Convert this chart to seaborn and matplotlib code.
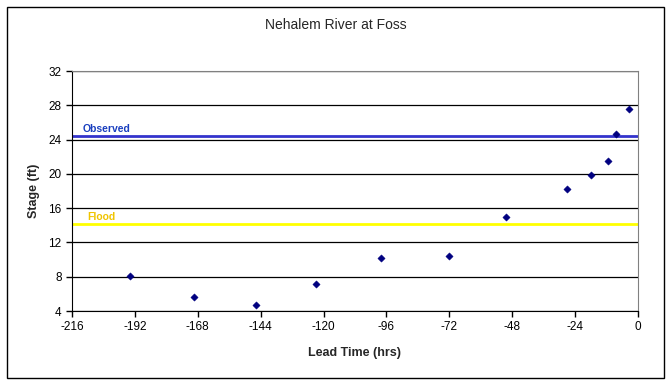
import numpy as np
import pandas as pd
import seaborn as sns
import matplotlib.pyplot as plt
from matplotlib.patches import Rectangle

# 데이터
lead_time = [-194, -169.5, -145.7, -122.8, -98, -72, -50.3, -27.2, -18, -11.4, -8.5, -3.3]
stage = [8.1, 5.6, 4.7, 7.2, 10.2, 10.4, 15.0, 18.2, 19.9, 21.5, 24.7, 27.6]
observed_stage = 24.4
flood_stage = 14.1
x_ticks = list(range(-216, 1, 24))
y_ticks = list(range(4, 33, 4))

df = pd.DataFrame({'Lead Time': lead_time, 'Stage': stage})

sns.set_style('white')
plt.rcParams['font.family'] = ['Liberation Sans', 'DejaVu Sans']
plt.rcParams['axes.unicode_minus'] = False  # 마이너스 기호를 하이픈으로

fig = plt.figure(figsize=(6.72, 3.84), dpi=100)
ax = fig.add_axes([72 / 672, 1 - 311 / 384, (638 - 72) / 672, (311 - 71) / 384])

# 바깥 테두리
fig.patches.append(Rectangle((7 / 672, 1 - 378 / 384), 657 / 672, 371 / 384,
                             transform=fig.transFigure, fill=False,
                             edgecolor='black', linewidth=1))

for y in y_ticks:
    ax.axhline(y, color='black', linewidth=0.9, zorder=1)

ax.axhline(observed_stage, color='#3333cc', linewidth=2, zorder=2)
ax.axhline(flood_stage, color='#ffff00', linewidth=2, zorder=2)
ax.text(-212, observed_stage + 0.3, 'Observed', color='#1a3fbf', fontsize=7.5,
        fontweight='bold', va='bottom', ha='left')
ax.text(-210, flood_stage + 0.3, 'Flood', color='#f0c400', fontsize=7.5,
        fontweight='bold', va='bottom', ha='left')

sns.scatterplot(data=df, x='Lead Time', y='Stage', ax=ax, marker='D', s=14,
                color='#000080', edgecolor='#000080', zorder=3)

ax.set_xlim(-216, 0)
ax.set_ylim(4, 32)
ax.set_xticks(x_ticks)
ax.set_yticks(y_ticks)
ax.tick_params(axis='both', direction='out', length=4, width=1, labelsize=8.5,
               bottom=True, left=True, colors='black')
for side in ['top', 'right']:
    ax.spines[side].set_color('#808080')
for side in ['left', 'bottom']:
    ax.spines[side].set_color('black')

ax.set_xlabel('Lead Time (hrs)', fontsize=9, fontweight='bold', labelpad=10)
ax.set_ylabel('Stage (ft)', fontsize=9, fontweight='bold', labelpad=6)
fig.text(0.5, 1 - 25 / 384, 'Nehalem River at Foss', ha='center', va='center',
         fontsize=10)

fig.savefig('out.png', dpi=100)
